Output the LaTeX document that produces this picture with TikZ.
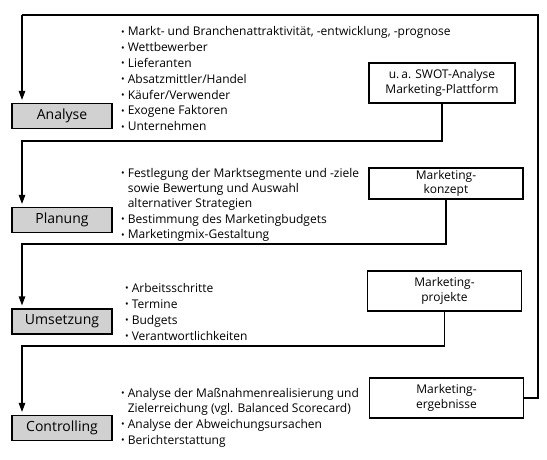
\documentclass[tikz,border=0pt]{standalone}
\usepackage{fontspec}
\setmainfont{Open Sans}
\usetikzlibrary{arrows.meta}
\tikzset{
  stage/.style={draw, line width=1.2pt, fill=black!18, minimum width=100pt, minimum height=25pt, inner sep=0pt, font=\fontsize{14}{16}\selectfont},
  outbox/.style={draw, line width=1.2pt, fill=white, minimum width=154pt, inner sep=0pt, align=center, font=\fontsize{12}{15.5}\selectfont},
  flow/.style={line width=1.2pt},
  flowarr/.style={line width=1.2pt, -{Triangle[length=9pt,width=6.5pt]}, shorten >=3pt},
  list/.style={inner sep=0pt, anchor=base west, font=\fontsize{12}{15.8}\selectfont}
}
\newcommand{\bul}{\raisebox{0.1ex}{\scalebox{0.8}{\textbullet}}}
\begin{document}
\begin{tikzpicture}[x=1pt,y=-1pt]
\useasboundingbox (0,0) rectangle (547,460);
% stage boxes
\node[stage] (ana) at (62,116) {Analyse};
\node[stage] (pla) at (62,220) {Planung};
\node[stage] (ums) at (62,321.5) {Umsetzung};
\node[stage] (con) at (62,428) {Controlling};
% result boxes
\node[outbox, minimum width=146pt, minimum height=40pt] (swot) at (442,83) {u.\,a. SWOT-Analyse\\Marketing-Plattform};
\node[outbox, minimum height=31pt, font=\fontsize{12}{14.5}\selectfont] (konz) at (446,183.5) {Marketing-\\konzept};
\node[outbox, minimum height=40pt] (proj) at (444.5,291) {Marketing-\\projekte};
\node[outbox, minimum height=40pt] (erg) at (446.5,398) {Marketing-\\ergebnisse};
% coordinates
\coordinate (rt) at (538,15);
\coordinate (lt) at (22,15);
% connectors
\draw[flow] (erg.east) -- (538,398) -- (rt) -- (lt);
\draw[flowarr] (lt) -- (ana.north west -| lt);
\draw[flowarr] (swot.south) |- (22,141) -- (pla.north west -| lt);
\draw[flowarr] (konz.south) |- (22,244) -- (ums.north west -| lt);
\draw[flowarr] (proj.south) |- (22,346) -- (con.north west -| lt);
% lists
\node[list] (l1) at (121,36) {\begin{tabular}[t]{@{}l@{\hspace{3pt}}l@{}}
\bul & Markt- und Branchenattraktivität, -entwicklung, -prognose\\
\bul & Wettbewerber\\
\bul & Lieferanten\\
\bul & Absatzmittler/Handel\\
\bul & Käufer/Verwender\\
\bul & Exogene Faktoren\\
\bul & Unternehmen
\end{tabular}};
\node[list, font=\fontsize{12}{15.5}\selectfont] (l2) at (121,177) {\begin{tabular}[t]{@{}l@{\hspace{3pt}}l@{}}
\bul & Festlegung der Marktsegmente und -ziele\\
 & sowie Bewertung und Auswahl\\
 & alternativer Strategien\\
\bul & Bestimmung des Marketingbudgets\\
\bul & Marketingmix-Gestaltung
\end{tabular}};
\node[list, font=\fontsize{12}{16}\selectfont] (l3) at (125,292) {\begin{tabular}[t]{@{}l@{\hspace{3pt}}l@{}}
\bul & Arbeitsschritte\\
\bul & Termine\\
\bul & Budgets\\
\bul & Verantwortlichkeiten
\end{tabular}};
\node[list, font=\fontsize{12}{15.7}\selectfont] (l4) at (121,397) {\begin{tabular}[t]{@{}l@{\hspace{3pt}}l@{}}
\bul & Analyse der Maßnahmenrealisierung und\\
 & Zielerreichung (vgl. Balanced Scorecard)\\
\bul & Analyse der Abweichungsursachen\\
\bul & Berichterstattung
\end{tabular}};
\end{tikzpicture}
\end{document}
